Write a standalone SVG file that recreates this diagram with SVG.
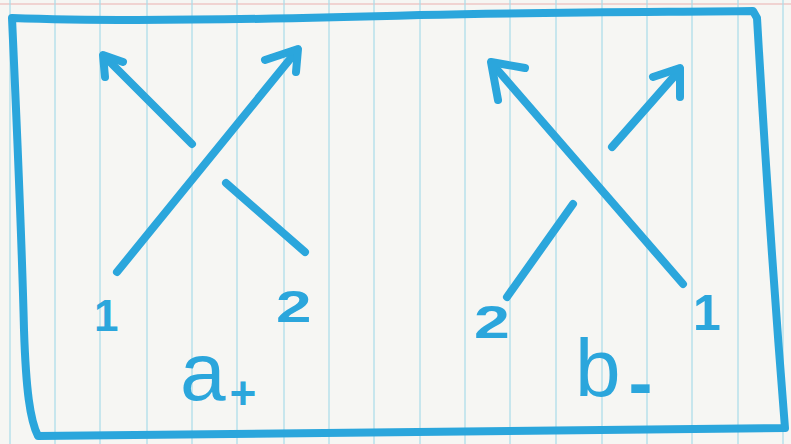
<svg xmlns="http://www.w3.org/2000/svg" width="791" height="444" viewBox="0 0 791 444">
  <style>
    .rule { stroke: #A8DCEA; stroke-width: 1.2; }
    .ink { fill: none; stroke: #2BA6DC; stroke-width: 8; stroke-linecap: round; stroke-linejoin: round; }
    .border { fill: none; stroke: #2BA6DC; stroke-width: 8; stroke-linecap: round; stroke-linejoin: round; }
    .lbl { fill: #2BA6DC; font-family: "Liberation Sans", Arial, sans-serif; font-weight: bold; }
    .big { font-weight: normal; }
  </style>
  <rect x="0" y="0" width="791" height="444" fill="#F6F6F3"/>
  <g id="paper-rules">
    <line x1="0" y1="4" x2="791" y2="4" stroke="#E9B0B0" stroke-width="1.2"/>
    <line class="rule" x1="10" y1="0" x2="10" y2="444"/>
    <line class="rule" x1="55" y1="0" x2="55" y2="444"/>
    <line class="rule" x1="100" y1="0" x2="100" y2="444"/>
    <line class="rule" x1="147" y1="0" x2="147" y2="444"/>
    <line class="rule" x1="192" y1="0" x2="192" y2="444"/>
    <line class="rule" x1="237" y1="0" x2="237" y2="444"/>
    <line class="rule" x1="284" y1="0" x2="284" y2="444"/>
    <line class="rule" x1="329" y1="0" x2="329" y2="444"/>
    <line class="rule" x1="374" y1="0" x2="374" y2="444"/>
    <line class="rule" x1="420" y1="0" x2="420" y2="444"/>
    <line class="rule" x1="465" y1="0" x2="465" y2="444"/>
    <line class="rule" x1="510" y1="0" x2="510" y2="444"/>
    <line class="rule" x1="556" y1="0" x2="556" y2="444"/>
    <line class="rule" x1="602" y1="0" x2="602" y2="444"/>
    <line class="rule" x1="647" y1="0" x2="647" y2="444"/>
    <line class="rule" x1="692" y1="0" x2="692" y2="444"/>
    <line class="rule" x1="738" y1="0" x2="738" y2="444"/>
    <line class="rule" x1="783" y1="0" x2="783" y2="444"/>
  </g>
  <g id="frame">
    <path class="border" d="M12,18 C120,22 250,20 420,15 C560,12 680,12 753,11 L757,18 C764,140 774,290 785,428 C600,431 400,433 38,436 C30,420 26,390 24,330 C22,250 18,150 12,18 Z"/>
  </g>
  <g id="connectors">
    <!-- crossing a+ -->
    <path class="ink" d="M117,272 L295,53"/>
    <path class="ink" d="M265,60 L298,49 L296,72"/>
    <path class="ink" d="M192,144 L106,58"/>
    <path class="ink" d="M123,62 L103,55 L105,77"/>
    <path class="ink" d="M226,183 L305,252"/>
    <!-- crossing b- -->
    <path class="ink" d="M683,284 L494,66"/>
    <path class="ink" d="M525,68 L491,62 L498,100"/>
    <path class="ink" d="M612,147 L678,72"/>
    <path class="ink" d="M653,77 L680,68 L680,97"/>
    <path class="ink" d="M573,204 L507,297"/>
  </g>
  <g id="crossing-a">
    <text class="lbl" x="94" y="331" font-size="44">1</text>
    <text class="lbl" font-size="44" transform="translate(276 322) scale(1.45 1)">2</text>
    <text class="lbl big" x="180" y="400" font-size="82">a<tspan font-size="46" font-weight="bold" dx="4" dy="9">+</tspan></text>
  </g>
  <g id="crossing-b">
    <text class="lbl" font-size="46" transform="translate(474 338) scale(1.4 1)">2</text>
    <text class="lbl" x="693" y="330" font-size="50">1</text>
    <text class="lbl big" x="575" y="396" font-size="82">b<tspan font-size="72" font-weight="bold" dx="8" dy="11">-</tspan></text>
  </g>
</svg>
